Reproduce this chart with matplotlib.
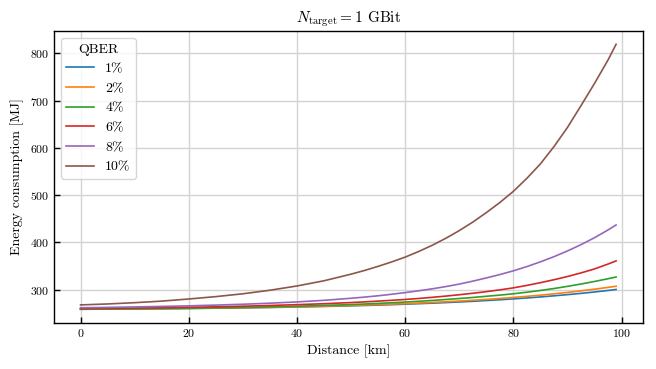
import matplotlib
matplotlib.use("Agg")
import matplotlib.pyplot as plt

# Computer Modern look (bundled with matplotlib)
plt.rcParams['font.family'] = ['cmr10', 'DejaVu Serif']
plt.rcParams['mathtext.fontset'] = 'cm'
plt.rcParams['axes.formatter.use_mathtext'] = True

# Distance in km (denser where the curves bend most)
distance = [0, 5, 10, 15, 20, 25, 30, 35, 40, 45, 50,
            52.5, 55, 57.5, 60, 62.5, 65, 67.5, 70, 72.5, 75, 77.5,
            80, 82.5, 85, 87.5, 90, 92.5, 95, 97.5, 99]

# Energy consumption in MJ
qber_1 = [258.8, 259.1, 259.5, 260.0, 260.5, 261.1, 261.8, 262.6, 263.6, 264.7, 266.1,
          266.8, 267.6, 268.5, 269.5, 270.6, 271.7, 272.9, 274.2, 275.6, 277.2, 278.9,
          280.7, 282.7, 284.8, 287.2, 289.7, 292.4, 295.3, 298.5, 300.6]
qber_2 = [258.8, 259.2, 259.6, 260.0, 260.6, 261.2, 262.0, 262.9, 264.0, 265.3, 266.8,
          267.7, 268.6, 269.6, 270.7, 271.9, 273.2, 274.6, 276.1, 277.8, 279.6, 281.6,
          283.8, 286.1, 288.6, 291.4, 294.4, 297.7, 301.2, 305.0, 307.5]
qber_4 = [259.0, 259.3, 259.7, 260.3, 260.9, 261.7, 262.6, 263.8, 265.2, 266.9, 268.8,
          269.9, 271.2, 272.5, 274.0, 275.6, 277.4, 279.4, 281.5, 283.7, 286.2, 288.7,
          291.5, 294.8, 298.5, 302.6, 307.2, 312.1, 317.5, 323.3, 327.0]
qber_6 = [260.0, 260.6, 261.3, 262.0, 263.0, 264.0, 265.3, 266.8, 268.5, 270.5, 273.0,
          274.4, 276.0, 277.7, 279.5, 281.6, 284.0, 286.6, 289.5, 292.6, 296.0, 299.8,
          304.0, 309.2, 315.0, 321.2, 328.0, 335.6, 344.0, 354.3, 361.0]
qber_8 = [262.0, 262.8, 263.7, 264.8, 266.0, 267.6, 269.4, 271.6, 274.3, 277.7, 282.0,
          284.5, 287.3, 290.5, 294.0, 297.8, 302.0, 306.7, 312.0, 318.2, 325.0, 332.1,
          340.0, 349.0, 359.0, 369.9, 382.0, 395.3, 410.0, 426.4, 437.0]
qber_10 = [268.0, 270.0, 272.7, 276.0, 280.5, 285.5, 291.5, 299.0, 308.0, 319.0, 333.0,
           340.8, 349.5, 358.8, 369.0, 380.9, 394.0, 408.7, 425.0, 443.0, 463.0, 484.4,
           508.0, 535.5, 566.0, 602.4, 643.0, 689.0, 736.0, 785.6, 819.0]

labels = ['1%', '2%', '4%', '6%', '8%', '10%']
series = [qber_1, qber_2, qber_4, qber_6, qber_8, qber_10]

fig = plt.figure(figsize=(6.56, 3.69), dpi=100)
ax = fig.add_axes([0.082, 0.126, 0.898, 0.790])

for values, label in zip(series, labels):
    ax.plot(distance, values, linewidth=1.2, label=label)

ax.set_title(r'$N_{\mathrm{target}} = 1$ GBit', fontsize=11)
ax.set_xlabel('Distance [km]', fontsize=10)
ax.set_ylabel('Energy consumption [MJ]', fontsize=10)

ax.grid(True, color='#d3d3d3', linewidth=1.0)
ax.set_axisbelow(True)
ax.tick_params(direction='in', labelsize=8.5, length=4, width=1.0)
for spine in ax.spines.values():
    spine.set_linewidth(1.0)

ax.legend(title='QBER', loc='upper left', fontsize=10, title_fontsize=10)

fig.savefig('out.png', dpi=100)
